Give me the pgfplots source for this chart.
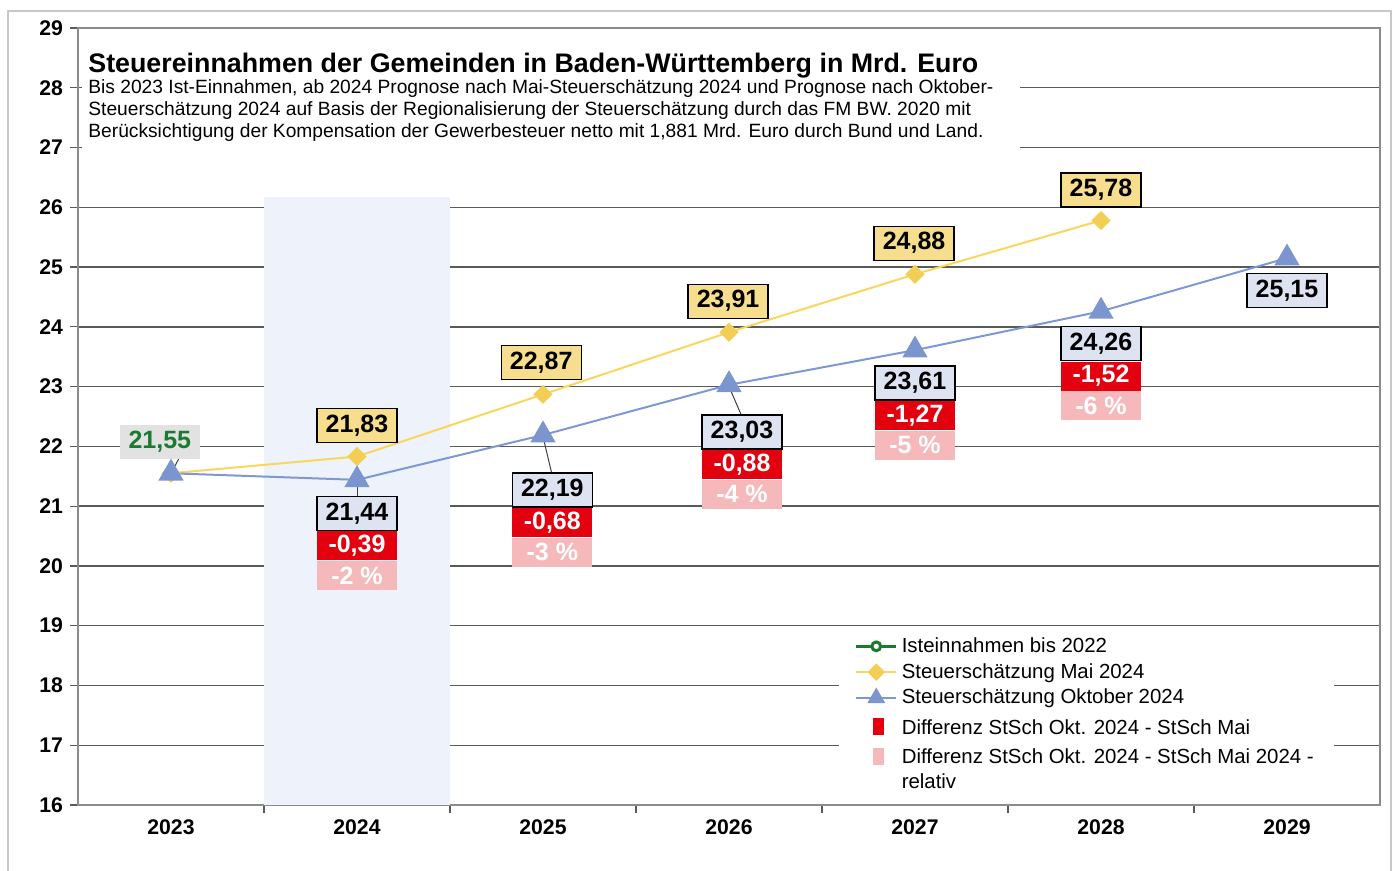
\documentclass[border=0pt]{standalone}
\usepackage{fontspec}
\setmainfont{Liberation Sans}
\usepackage{pgfplots}
\pgfplotsset{compat=1.18}
\definecolor{GridGray}{HTML}{5A5A5A}
\definecolor{AxisGray}{HTML}{8C8C8C}
\definecolor{FrameGray}{HTML}{C8C8C8}
\definecolor{Band}{HTML}{EEF2FA}
\definecolor{MaiLine}{HTML}{FAD65C}
\definecolor{MaiMark}{HTML}{F3CE55}
\definecolor{OktLine}{HTML}{7F98D4}
\definecolor{OktMark}{HTML}{7B96CF}
\definecolor{IstGreen}{HTML}{1B7A30}
\definecolor{LabYellow}{HTML}{F7DE8F}
\definecolor{LabBlue}{HTML}{DDE3F0}
\definecolor{LabGray}{HTML}{E2E2E2}
\definecolor{DiffRed}{HTML}{E3000F}
\definecolor{DiffPink}{HTML}{F5B9BC}

\tikzset{
  px/.style={x=0.5pt,y=-0.5pt,shift={(0pt,435.5pt)}},
  lab/.style={draw=black,line width=0.6pt,font=\bfseries\fontsize{12.5}{14}\selectfont,
    minimum width=40pt,minimum height=17pt,inner sep=1pt},
  labY/.style={lab,fill=LabYellow},
  labB/.style={lab,fill=LabBlue},
  labR/.style={fill=DiffRed,text=white,font=\bfseries\fontsize{12.5}{14}\selectfont,
    minimum width=40pt,minimum height=14.5pt,inner sep=1pt,anchor=north},
  labP/.style={labR,fill=DiffPink},
  lead/.style={draw=black!75,line width=0.5pt},
}

\begin{document}
\begin{tikzpicture}
\begin{scope}[px]
  \path[use as bounding box] (0,0) rectangle (1394,871);
  \draw[FrameGray,line width=1pt] (8,900) -- (8,11) -- (1391,11) -- (1391,900);
\end{scope}

\begin{axis}[
  at={(39pt,33pt)},anchor=south west,
  scale only axis,width=651pt,height=388.5pt,
  xmin=2022.5,xmax=2029.5,ymin=16,ymax=29,
  xtick={2023.5,2024.5,2025.5,2026.5,2027.5,2028.5},
  xticklabels={},
  extra x ticks={2023,2024,2025,2026,2027,2028,2029},
  extra x tick labels={2023,2024,2025,2026,2027,2028,2029},
  extra x tick style={major tick length=0pt,xticklabel style={yshift=-4pt}},
  ytick={16,17,...,29},
  tick pos=left,
  tick align=outside,
  major tick length=4pt,
  tick style={draw=GridGray,line width=0.6pt},
  ymajorgrids,
  grid style={draw=GridGray,line width=0.7pt},
  axis line style={draw=AxisGray,line width=1pt},
  tick label style={font=\bfseries\fontsize{10.6}{12}\selectfont,
    /pgf/number format/assume math mode=true},
  set layers,
  clip=false,
  legend style={at={(0.584,0.229)},anchor=north west,draw=none,fill=white,
    font=\fontsize{10.2}{12.5}\selectfont,
    cells={anchor=west,align=left},row sep=0pt,inner xsep=8pt,inner ysep=3pt},
  legend image code/.code={\draw[mark repeat=2,mark phase=2,#1]
    plot coordinates {(0pt,0pt) (10pt,0pt) (20pt,0pt)};},
]
\fill[Band,on layer=axis background] (axis cs:2023.5,16) rectangle (axis cs:2024.5,26.17);

\addplot[IstGreen,line width=1.5pt,mark=*,mark size=2.2pt,mark options={fill=white}]
  coordinates {(2023,21.55)};
\addlegendentry{Isteinnahmen bis 2022}
\addplot[MaiLine,line width=1pt,mark=square*,mark size=2.9pt,
  mark options={rotate=45,fill=MaiMark,draw=MaiMark},
  legend image post style={mark size=2.6pt}]
  coordinates {(2023,21.55) (2024,21.83) (2025,22.87) (2026,23.91) (2027,24.88) (2028,25.78)};
\addlegendentry{Steuerschätzung Mai 2024}
\addplot[OktLine,line width=1pt,mark=triangle*,mark size=6.3pt,
  mark options={fill=OktMark,draw=OktMark},
  legend image post style={mark size=4.2pt}]
  coordinates {(2023,21.55) (2024,21.44) (2025,22.19) (2026,23.03) (2027,23.61) (2028,24.26) (2029,25.15)};
\addlegendentry{Steuerschätzung Oktober 2024}
\addlegendimage{legend image code/.code={\fill[DiffRed] (8.5pt,-4pt) rectangle (13.5pt,4pt);}}
\addlegendentry{\rule{0pt}{10pt}Differenz StSch Okt. 2024 - StSch Mai}
\addlegendimage{legend image code/.code={\fill[DiffPink] (8.5pt,2.3pt) rectangle (13.5pt,10.3pt);}}
\addlegendentry{\rule{0pt}{9pt}Differenz StSch Okt. 2024 - StSch Mai 2024 -\\relativ}

% leader lines
\draw[lead] (axis cs:2023.05,21.84) -- (axis cs:2023.0,21.55);
\draw[lead] (axis cs:2024.0,21.13) -- (axis cs:2024.0,21.44);
\draw[lead] (axis cs:2025.046,21.56) -- (axis cs:2024.998,22.19);
\draw[lead] (axis cs:2026.068,22.51) -- (axis cs:2025.996,23.03);

% 2023
\node[fill=LabGray,text=IstGreen,font=\bfseries\fontsize{12.5}{14}\selectfont,
  minimum width=40pt,minimum height=17pt,inner sep=1pt] at (axis cs:2022.94,22.07) {21,55};
% Mai labels
\node[labY] at (axis cs:2024.0,22.35) {21,83};
\node[labY] at (axis cs:2024.99,23.40) {22,87};
\node[labY] at (axis cs:2025.995,24.43) {23,91};
\node[labY] at (axis cs:2026.995,25.40) {24,88};
\node[labY] at (axis cs:2028.0,26.29) {25,78};
% Oktober labels with differences
\node[labB] (b24) at (axis cs:2024.0,20.88) {21,44};
\node[labR] (r24) at (b24.south) {-0,39};
\node[labP] at (r24.south) {-2 \%};
\node[labB] (b25) at (axis cs:2025.05,21.27) {22,19};
\node[labR] (r25) at (b25.south) {-0,68};
\node[labP] at (r25.south) {-3 \%};
\node[labB] (b26) at (axis cs:2026.07,22.24) {23,03};
\node[labR] (r26) at (b26.south) {-0,88};
\node[labP] at (r26.south) {-4 \%};
\node[labB] (b27) at (axis cs:2027.0,23.06) {23,61};
\node[labR] (r27) at (b27.south) {-1,27};
\node[labP] at (r27.south) {-5 \%};
\node[labB] (b28) at (axis cs:2028.0,23.72) {24,26};
\node[labR] (r28) at (b28.south) {-1,52};
\node[labP] at (r28.south) {-6 \%};
\node[labB] at (axis cs:2029.0,24.61) {25,15};
\end{axis}

\begin{scope}[px]
  \fill[white] (82,38) rectangle (1020,158);
  \node[anchor=west,inner sep=0pt,font=\bfseries\fontsize{13.4}{15}\selectfont]
    at (88,66) {Steuereinnahmen der Gemeinden in Baden-Württemberg in Mrd. Euro};
  \node[anchor=west,inner sep=0pt,font=\fontsize{9.6}{11}\selectfont]
    at (88,89) {Bis 2023 Ist-Einnahmen, ab 2024 Prognose nach Mai-Steuerschätzung 2024 und Prognose nach Oktober-};
  \node[anchor=west,inner sep=0pt,font=\fontsize{9.6}{11}\selectfont]
    at (88,111) {Steuerschätzung 2024 auf Basis der Regionalisierung der Steuerschätzung durch das FM BW. 2020 mit};
  \node[anchor=west,inner sep=0pt,font=\fontsize{9.6}{11}\selectfont]
    at (88,133) {Berücksichtigung der Kompensation der Gewerbesteuer netto mit 1,881 Mrd. Euro durch Bund und Land.};
\end{scope}
\end{tikzpicture}
\end{document}
